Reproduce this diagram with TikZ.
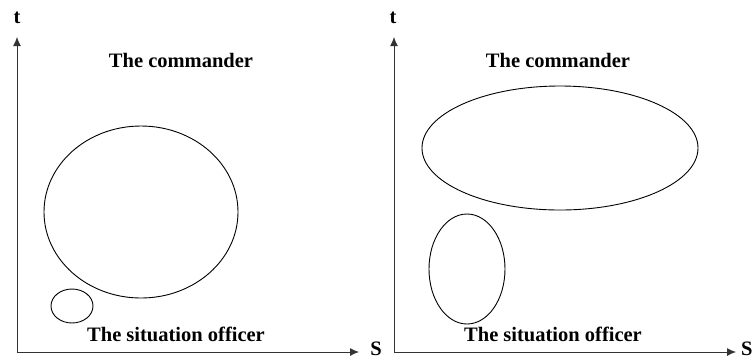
\documentclass[tikz,border=0pt]{standalone}
\usepackage{fontspec}
\setmainfont{Liberation Serif}
\usetikzlibrary{shapes.geometric, positioning, arrows.meta}

\begin{document}
\begin{tikzpicture}[x=1pt, y=-1pt,
  axis/.style={-{Latex[length=9pt, width=8pt]}, line width=0.9pt, draw=black!80, fill=black},
  lbl/.style={font=\fontsize{20.5}{24}\selectfont\bfseries, inner sep=0pt},
  zone/.style={ellipse, draw=black, line width=0.9pt, inner sep=0pt}
]
  \useasboundingbox (0,0) rectangle (752,360);

  % left panel
  \coordinate (o1) at (17,352);
  \coordinate (ty1) at (17,37);
  \coordinate (sx1) at (359,352);
  \node[lbl] (t1) at (17,18) {t};
  \node[lbl] (s1) at (376,349) {S};
  \node[lbl] (cmd1) at (181,60) {The commander};
  \node[lbl] (off1) at (176,334) {The situation officer};
  \node[zone, minimum width=194pt, minimum height=172pt] (big1) at (141,212) {};
  \node[zone, minimum width=42pt, minimum height=34pt] (small1) at (72,306) {};
  \draw[axis] (o1) -- (ty1);
  \draw[axis] (o1) -- (sx1);

  % right panel
  \coordinate (o2) at (394,352);
  \coordinate (ty2) at (394,37);
  \coordinate (sx2) at (736,352);
  \node[lbl] (t2) at (393,18) {t};
  \node[lbl, anchor=west] (s2) at (741,349) {S};
  \node[lbl] (cmd2) at (558,60) {The commander};
  \node[lbl] (off2) at (553,334) {The situation officer};
  \node[zone, minimum width=276pt, minimum height=124pt] (big2) at (560,148) {};
  \node[zone, minimum width=76pt, minimum height=110pt] (small2) at (467,269) {};
  \draw[axis] (o2) -- (ty2);
  \draw[axis] (o2) -- (sx2);
\end{tikzpicture}
\end{document}
